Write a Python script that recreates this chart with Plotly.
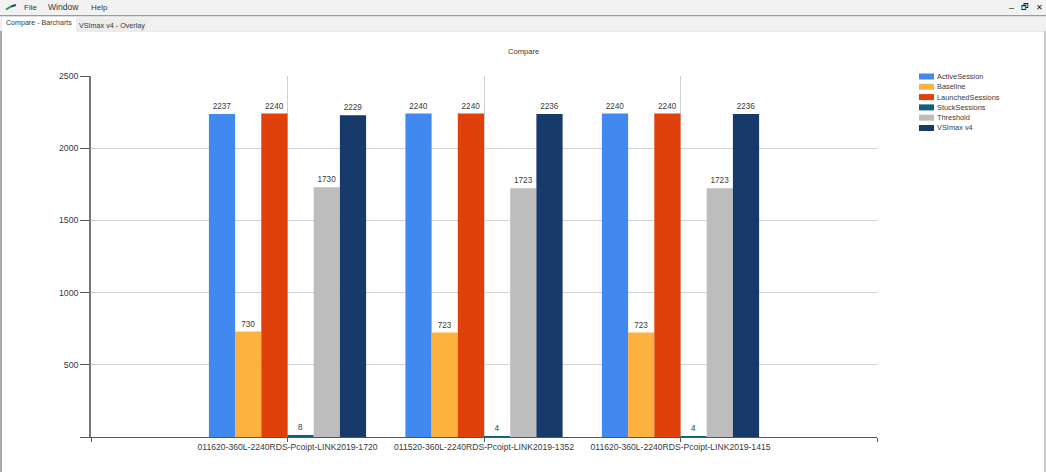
import plotly.graph_objects as go

categories = ["011620-360L-2240RDS-Pcoipt-LINK2019-1720",
              "011520-360L-2240RDS-Pcoipt-LINK2019-1352",
              "011620-360L-2240RDS-Pcoipt-LINK2019-1415"]
category_pos = [1, 2, 3]
ActiveSession = [2237, 2240, 2240]
Baseline = [730, 723, 723]
LaunchedSessions = [2240, 2240, 2240]
StuckSessions = [8, 4, 4]
Threshold = [1730, 1723, 1723]
VSImax = [2229, 2236, 2236]
y_ticks = [0, 500, 1000, 1500, 2000, 2500]
y_labels = ["", "500", "1000", "1500", "2000", "2500"]
series = [("ActiveSession", ActiveSession, "#4189ee"),
          ("Baseline", Baseline, "#fdb13f"),
          ("LaunchedSessions", LaunchedSessions, "#e0400a"),
          ("StuckSessions", StuckSessions, "#0f5f7f"),
          ("Threshold", Threshold, "#bdbdbd"),
          ("VSImax v4", VSImax, "#183a6b")]

W, H = 1046, 472
L, R, T, B = 91, 877, 76, 437
FONT = "Liberation Sans"
TXT = "#3a3a3a"

def px(x): return (x - L) / (R - L)
def py(y): return (B - y) / (B - T)

fig = go.Figure()
for name, vals, col in series:
    fig.add_trace(go.Bar(name=name, x=category_pos, y=vals, marker=dict(color=col, line_width=0),
                         text=[str(v) for v in vals], textposition="outside", cliponaxis=False,
                         textfont=dict(size=8.2, color=TXT, family=FONT), showlegend=False))

shapes, ann = [], []
def rect(x0, y0, x1, y1, fill):
    shapes.append(dict(type="rect", xref="paper", yref="paper", x0=px(x0), x1=px(x1), y0=py(y0), y1=py(y1),
                       fillcolor=fill, line_width=0, layer="below"))
def label(x, y, text, size=9, anchor="left", color=TXT):
    ann.append(dict(xref="paper", yref="paper", x=px(x), y=py(y), text=text, showarrow=False, xanchor=anchor,
                    yanchor="middle", font=dict(size=size, color=color, family=FONT),
                    borderpad=0, borderwidth=0))

# window chrome
rect(0, 0, W, 15, "#f2f2f2")
rect(0, 15, W, 16.5, "#9a9a9a")
rect(0, 16.5, W, 31, "#f0f0f0")
rect(2, 17, 76, 32, "#ffffff")
rect(76, 19, 147, 31, "#ececec")
rect(0, 31, 2, H, "#a8a8a8")
rect(1044, 31, W, H, "#c8c8c8")
rect(76, 31, 1044, 31.6, "#d8d8d8")
shapes.append(dict(type="line", xref="paper", yref="paper", x0=px(6), x1=px(11), y0=py(9.5), y1=py(6.5),
                   line=dict(color="#1f9a5a", width=2)))
shapes.append(dict(type="line", xref="paper", yref="paper", x0=px(11), x1=px(16), y0=py(6.5), y1=py(5),
                   line=dict(color="#1c4f7a", width=2)))
for t, x, s in [("File", 24, 8), ("Window", 48, 8.6), ("Help", 91, 8)]:
    label(x, 7, t, s)
label(6, 23.5, "Compare - Barcharts", 7.1)
label(79, 25, "VSImax v4 - Overlay", 7.2)
label(1011, 8, "–", 9, "center", "#222222")
label(1025, 7.5, "🗗", 8, "center", "#222222")
label(1039, 7.5, "✕", 8, "center", "#111111")
label(523, 51, "Compare", 7.6, "center")

# legend
for i, (name, vals, col) in enumerate(series):
    y = 76.5 + i * 10.3
    rect(919, y - 3, 934, y + 3, col)
    label(937, y, name, 7.4)

fig.update_layout(
    width=W, height=H, autosize=False, margin=dict(l=L, r=W - R, t=T, b=H - B, pad=0),
    paper_bgcolor="white", plot_bgcolor="white", barmode="group", bargap=0.2, bargroupgap=0,
    font=dict(family=FONT, size=9, color=TXT), shapes=shapes, annotations=ann, showlegend=False,
    xaxis=dict(range=[0, 4], tickmode="array", tickvals=[0, 1, 2, 3, 4], ticktext=[""] + categories + [""],
               ticks="outside", ticklen=4, tickcolor="#555555", showline=True, linecolor="#555555", linewidth=1,
               showgrid=True, gridcolor="#d0d0d0", gridwidth=1, zeroline=False, ticklabelstandoff=-2,
               tickfont=dict(size=8.6, color=TXT, family=FONT), tickangle=0),
    yaxis=dict(range=[0, 2500], tickmode="array", tickvals=y_ticks, ticktext=y_labels,
               ticks="outside", ticklen=9, tickcolor="#555555", showline=True, linecolor="#777777", linewidth=1.5,
               showgrid=True, gridcolor="#d2d2d2", gridwidth=1, zeroline=False,
               tickfont=dict(size=8.8, color=TXT, family=FONT)),
)
fig.write_html("out.html", config=dict(displayModeBar=False),
               post_script="document.body.style.margin='0';document.documentElement.style.overflow='hidden';")
